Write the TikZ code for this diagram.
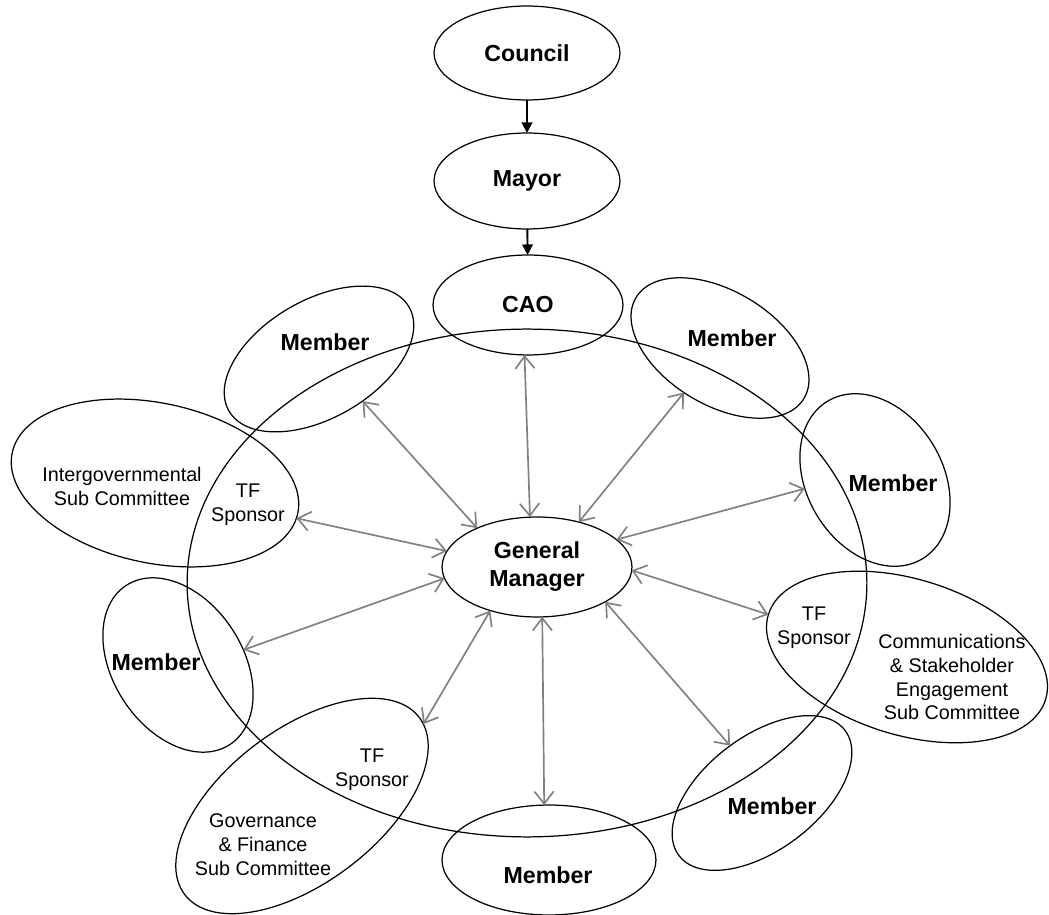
\documentclass[tikz,border=0pt]{standalone}
\usepackage{fontspec}
\setmainfont{Liberation Sans}
\usetikzlibrary{shapes.geometric,arrows.meta}
\definecolor{linkgray}{RGB}{128,128,128}
\begin{document}
\begin{tikzpicture}[x=0.02cm,y=-0.02cm,
  % ellipse given by its two semi-axes (in drawing units)
  oval/.style n args={2}{ellipse,draw,line width=0.7pt,inner sep=0pt,outer sep=0pt,
    minimum width=#1*0.04cm,minimum height=#2*0.04cm},
  bold/.style={font=\fontsize{13.2}{15.9}\selectfont\bfseries,align=center},
  plain/.style={font=\fontsize{11.25}{13.6}\selectfont,align=center,inner sep=0pt},
  down/.style={draw,line width=1.1pt,-{Triangle[length=6pt,width=6pt]}},
  link/.style={draw=linkgray,line width=0.95pt,
    {Straight Barb[length=7pt,width=11pt]}-{Straight Barb[length=7pt,width=11pt]}}]
\useasboundingbox (0,0) rectangle (1049,915);

% chain of command
\node[oval={93}{47},bold] (council) at (527,53) {Council};
\node[oval={93}{48},bold] (mayor) at (527,181) {Mayor};
\node[oval={95}{50},bold] (cao) at (528,305) {CAO};

% the task force ring
\node[oval={340}{254}] (ring) at (527,583) {};

\node[oval={95}{50},bold] (gm) at (537,567) {General\\Manager};

% members around the ring
\node[oval={104}{59},rotate=30] (m1) at (319,359) {};
\node[bold] (m1t) at (325,342) {Member};
\node[oval={98}{57},rotate=-31] (m2) at (720,348) {};
\node[bold] (m2t) at (732,338) {Member};
\node[oval={92}{68},rotate=121] (m3) at (875,480) {};
\node[bold] (m3t) at (893,483) {Member};
\node[oval={104}{57},rotate=37] (m5) at (762,793) {};
\node[bold] (m5t) at (772,806) {Member};
\node[oval={107}{55}] (m6) at (549,860) {};
\node[bold] (m6t) at (548,875) {Member};
\node[oval={95}{65},rotate=123] (m8) at (178,665) {};
\node[bold] (m8t) at (156,662) {Member};

% sub committees
\node[oval={146}{80},rotate=-12] (ig) at (155,483) {};
\node[plain] (igt) at (122,486) {Intergovernmental\\Sub Committee};
\node[plain] (igs) at (248,505) {TF\\Sponsor};

\node[oval={145}{78},rotate=-17] (cs) at (907,657) {};
\node[plain] (cst) at (952,677) {Communications\\\& Stakeholder\\Engagement\\Sub Committee};
\node[plain] (css) at (814,628) {TF\\Sponsor};

\node[oval={147}{77},rotate=37] (gf) at (302,806) {};
\node[plain] (gft) at (263,845) {Governance\\\& Finance\\Sub Committee};
\node[plain] (gfs) at (372,770) {TF\\Sponsor};

% reporting lines
\draw[down] (council) -- (mayor);
\draw[down] (mayor) -- (cao);

% two-way links from the General Manager
\draw[link] (gm.98) -- (cao.266);
\draw[link] (gm.147) -- (m1.-74);
\draw[link] (gm.47) -- (m2.-98);
\draw[link] (gm.19) -- (m3.66);
\draw[link] (gm.-2) -- (cs.180);
\draw[link] (gm.-27) -- (m5.87);
\draw[link] (gm.-84) -- (m6.95);
\draw[link] (gm.223) -- (gf.-3);
\draw[link] (gm.187) -- (m8.-110);
\draw[link] (gm.170) -- (ig.-2);
\end{tikzpicture}
\end{document}
